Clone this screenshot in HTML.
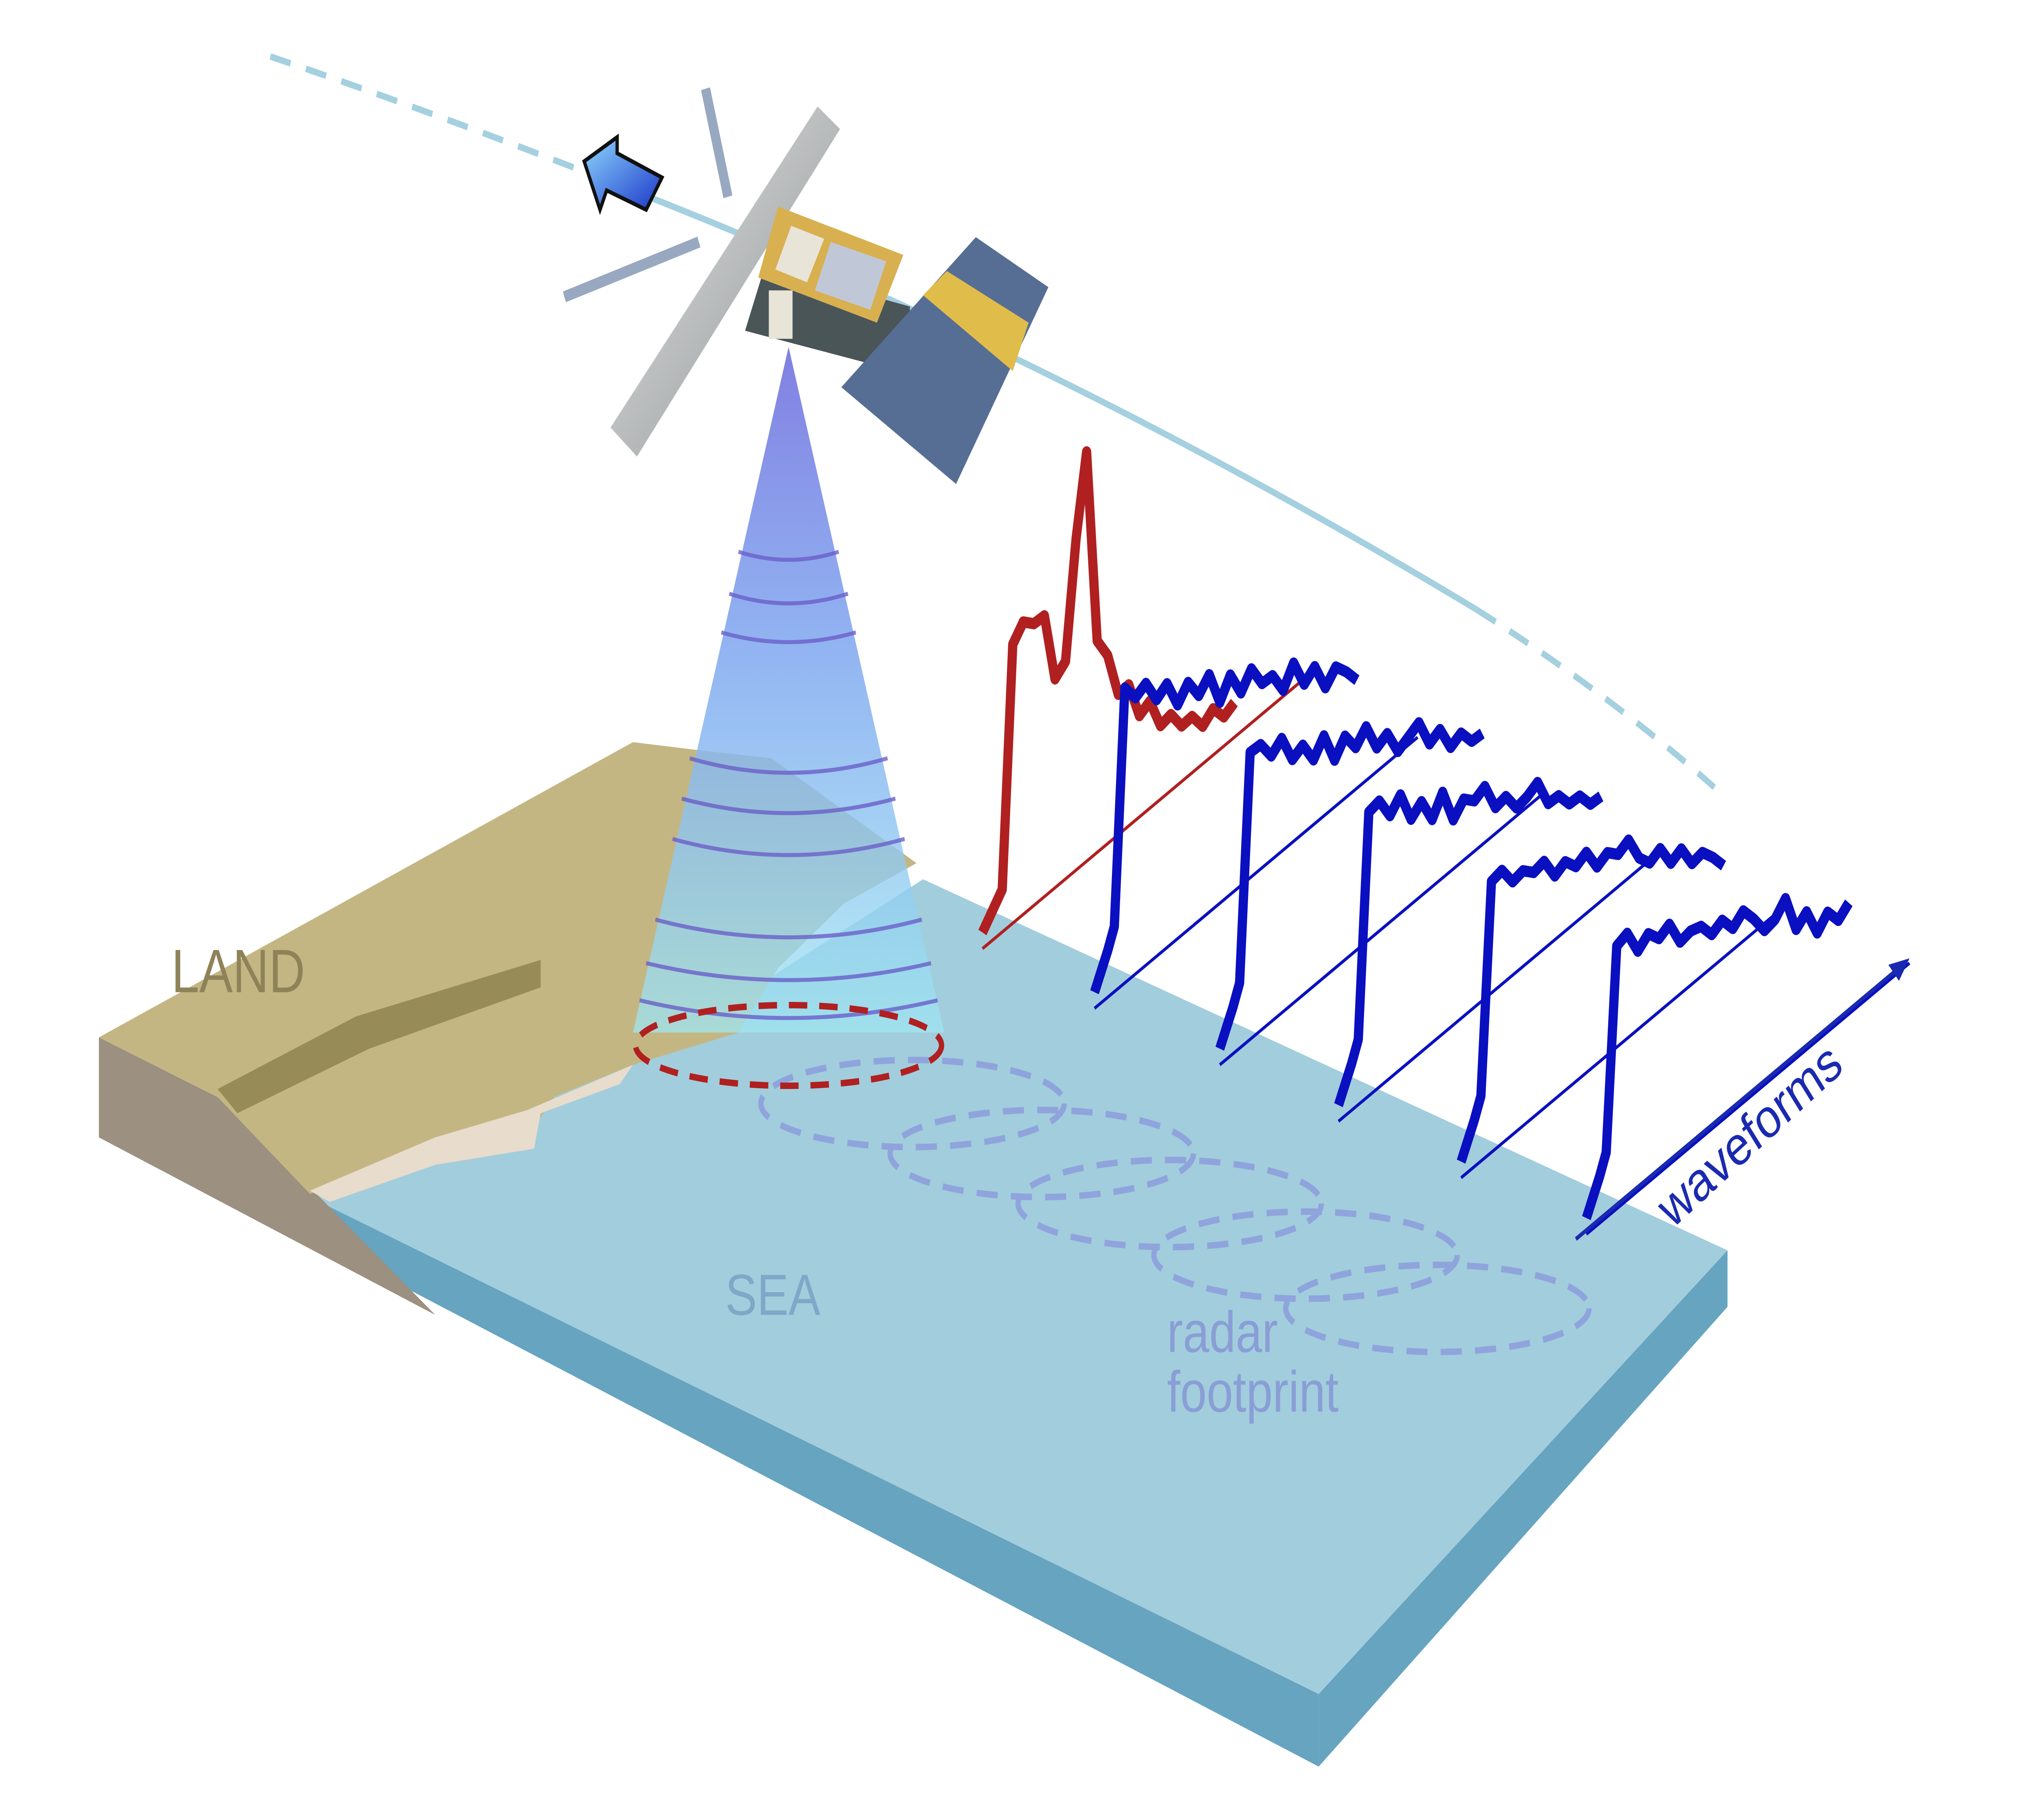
<!DOCTYPE html>
<html><head><meta charset="utf-8"><style>
html,body{margin:0;padding:0;background:#fff;overflow:hidden;width:100%;height:100%;}
svg{display:block;width:100vw;height:100vh;}
text{font-family:"Liberation Sans",sans-serif;}
</style></head><body>
<svg viewBox="0 0 1550 1125" preserveAspectRatio="none" xmlns="http://www.w3.org/2000/svg">
<defs>
<linearGradient id="cone" x1="0" y1="0" x2="0" y2="1">
<stop offset="0" stop-color="#7b78e0" stop-opacity="0.95"/>
<stop offset="0.45" stop-color="#7fa8f0" stop-opacity="0.85"/>
<stop offset="1" stop-color="#9fe6f2" stop-opacity="0.75"/>
</linearGradient>
<linearGradient id="panel" x1="0" y1="0" x2="1" y2="1">
<stop offset="0" stop-color="#e8e8e8"/><stop offset="1" stop-color="#8a9090"/>
</linearGradient>
<linearGradient id="arrowg" x1="0" y1="0" x2="1" y2="1">
<stop offset="0" stop-color="#8fd8ff"/><stop offset="1" stop-color="#1a36c8"/>
</linearGradient>
</defs>

<path d="M205,35 Q330,70 470,115" fill="none" stroke="#a4d0e0" stroke-width="4" stroke-dasharray="16,12"/>
<path d="M470,115 Q800,220 1120,378" fill="none" stroke="#a4d0e0" stroke-width="4"/>
<path d="M1120,378 Q1220,430 1300,488" fill="none" stroke="#a4d0e0" stroke-width="4" stroke-dasharray="16,12"/>

<polygon points="230,740 1000,1050 1000,1095 300,795" fill="#66a4c0"/>
<polygon points="1000,1050 1310,775 1310,810 1000,1095" fill="#66a4c0"/>
<polygon points="230,740 500,650 700,545 1310,775 1000,1050" fill="#a2cddc"/>
<polygon points="75,643 165,680 240,740 330,815 75,705" fill="#9c9080"/>
<polygon points="75,643 480,460 530,465 585,470 695,535 640,560 590,600 560,640 480,660 420,680 400,705 330,715 235,740 165,680" fill="#c4b683"/>
<polygon points="165,675 270,630 410,595 410,612 280,650 180,690" fill="#978c58"/>
<polygon points="235,738 330,705 400,688 480,660 470,672 410,690 405,712 330,722 250,745" fill="#e8dccc"/>
<text x="130" y="615" font-size="38" fill="#8e8358">LAND</text>
<text x="550" y="815" font-size="36" fill="#7ea8c8">SEA</text>

<g fill="none" stroke="#8fa4dc" stroke-width="4" stroke-dasharray="16,10">
<ellipse cx="692" cy="684" rx="115" ry="27"/>
<ellipse cx="790" cy="715" rx="115" ry="27"/>
<ellipse cx="887" cy="746" rx="115" ry="27"/>
<ellipse cx="990" cy="778" rx="115" ry="27"/>
<ellipse cx="1090" cy="811" rx="115" ry="27"/>
</g>
<text font-size="36" fill="#8a9ed6"><tspan x="885" y="838">radar</tspan><tspan x="885" y="875">footprint</tspan></text>

<polygon points="598,215 480,640 716,640" fill="url(#cone)"/>
<g fill="none" stroke="#6a5fc8" stroke-width="2.5" opacity="0.8">
<path d="M560,342 Q598,352 636,342"/><path d="M553,368 Q598,380 643,368"/><path d="M547,392 Q598,404 649,392"/>
<path d="M523,470 Q598,488 673,470"/><path d="M517,495 Q598,513 679,495"/><path d="M510,520 Q598,540 686,520"/>
<path d="M497,570 Q598,592 699,570"/><path d="M490,597 Q598,618 706,597"/><path d="M485,620 Q598,642 711,620"/>
</g>
<ellipse cx="598" cy="648" rx="116" ry="25" fill="none" stroke="#b02020" stroke-width="4" stroke-dasharray="14,9"/>

<g>
<line x1="535" y1="55" x2="552" y2="122" stroke="#98a8c0" stroke-width="7"/>
<line x1="428" y1="184" x2="530" y2="150" stroke="#98a8c0" stroke-width="7"/>
<polygon points="463,265 620,66 637,80 483,283" fill="url(#panel)"/>
<polygon points="580,165 690,190 690,232 565,205" fill="#4a5558"/>
<polygon points="590,128 685,158 665,200 575,172" fill="#d8b050"/>
<polygon points="600,140 625,148 612,175 588,167" fill="#e8e4d8"/>
<polygon points="630,150 672,162 660,192 618,180" fill="#c0c8d8"/>
<rect x="583" y="180" width="18" height="30" fill="#e8e4d8"/>
<polygon points="638,240 740,147 795,178 725,300" fill="#566e94"/>
<polygon points="700,183 718,168 780,200 768,230" fill="#e0bc4a"/>
</g>
<polygon points="443,100 468,85 468,95 502,110 490,130 460,118 455,130" fill="url(#arrowg)" stroke="#111" stroke-width="2.5"/>

<g id="waves"></g>
<line x1="1195" y1="768" x2="1440" y2="600" stroke="#1a2ab0" stroke-width="2.5"/>
<polygon points="1448,594 1432,598 1440,608" fill="#1a2ab0"/>
<text x="1268" y="762" font-size="34" fill="#1a2ab0" transform="rotate(-37 1268 762)">waveforms</text>

<script>
const redHeights=[0,8,16,24,175,188,186,190,150,160,235,288,170,160,135,140,120,128,112,118,110,115,108,118,112,120];
const blue1=[0,12,24,38,185,178,186,175,184,170,183,174,186,168,184,172,186,176,180,170,186,172,182,168,180,176,170];
const blue2=[0,12,24,38,180,184,176,186,172,180,170,184,168,182,174,186,172,180,168,176,184,170,178,166,174,168,172];
const blue3=[0,12,24,38,178,184,174,186,170,180,168,184,166,178,176,184,170,176,168,174,182,168,172,166,170,164,168];
const blue4=[0,12,24,38,170,176,168,174,172,178,168,176,172,180,170,178,176,184,172,168,176,166,174,164,170,166,160];
const blue5=[0,12,24,38,165,172,160,170,166,174,162,168,170,164,172,166,176,170,162,168,180,160,170,156,168,162,172];
const series=[redHeights,blue1,blue2,blue3,blue4,blue5];
const colors=['#b02020','#0a10c0','#0a10c0','#0a10c0','#0a10c0','#0a10c0'];
const origins=[[745,578],[830,615],[925,650],[1015,685],[1108,720],[1203,755]];
const step=8;
const g=document.getElementById('waves');
const NS='http://www.w3.org/2000/svg';
function xPos(o,i){return o[0]+(i<4?i*5:15+(i-3)*step);}
function yPos(o,i,v){return o[1]-v-i*0.9;}
series.forEach((arr,k)=>{
  const o=origins[k];
  const ax=document.createElementNS(NS,'line');
  
  
  ax.setAttribute('x1',o[0]);ax.setAttribute('y1',o[1]+10);
  ax.setAttribute('x2',o[0]+245);ax.setAttribute('y2',o[1]+10-168);
  ax.setAttribute('stroke',colors[k]);ax.setAttribute('stroke-width','2');
  g.appendChild(ax);
  let d='';
  arr.forEach((v,i)=>{
    d+=(i?'L':'M')+xPos(o,i).toFixed(1)+','+yPos(o,i,v).toFixed(1)+' ';
  });
  const p=document.createElementNS(NS,'path');
  
  
  p.setAttribute('d',d);p.setAttribute('fill','none');
  p.setAttribute('stroke',colors[k]);p.setAttribute('stroke-width','7');
  p.setAttribute('stroke-linejoin','round');
  g.appendChild(p);
});
</script>
</svg>
</body></html>
